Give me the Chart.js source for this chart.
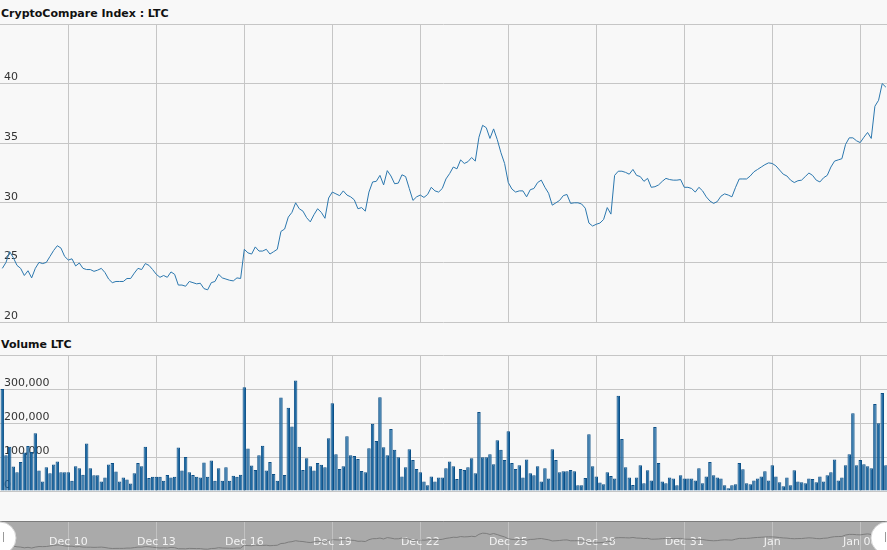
<!DOCTYPE html>
<html>
<head>
<meta charset="utf-8">
<script src="https://cdn.jsdelivr.net/npm/chart.js@4.4.1/dist/chart.umd.min.js"></script>
<style>
  html, body { margin: 0; padding: 0; background: #f8f8f8; overflow: hidden; }
  #wrap { position: relative; width: 887px; height: 550px; }
  canvas { position: absolute; left: 0; }
  .title { position: absolute; left: 1px; font: bold 11px "DejaVu Sans", Verdana, sans-serif; line-height: 13px; color: #111; }
</style>
</head>
<body>
<div id="wrap">
  <div class="title" style="top:7px">CryptoCompare Index : LTC</div>
  <canvas id="price" width="887" height="306" style="top:20px"></canvas>
  <div class="title" style="top:338px">Volume LTC</div>
  <canvas id="volume" width="887" height="144" style="top:351px"></canvas>
  <canvas id="navigator" width="887" height="33" style="top:517px"></canvas>
</div>
<script>
Chart.defaults.font.family = "'DejaVu Sans', Verdana, sans-serif";
Chart.defaults.font.size = 11;
Chart.defaults.color = "#333";
Chart.defaults.animation = false;

// samples every 3 hours, x counted in hours from Dec 10 00:00
const firstHour = -54;
const stepHours = 3;
const xMin = -55.9;
const xMax = 669.9;

const tickHours = [0, 72, 144, 216, 288, 360, 432, 504, 576, 648];
const tickLabels = ["Dec 10", "Dec 13", "Dec 16", "Dec 19", "Dec 22", "Dec 25", "Dec 28", "Dec 31", "Jan", "Jan 06"];

const prices = [
  24.5, 25.0, 25.9, 25.4, 24.75, 24.5, 23.9, 24.3, 23.7, 24.5,
  25.0, 24.9, 25.0, 25.5, 26.0, 26.4, 26.2, 25.5, 25.2, 25.3,
  24.7, 24.95, 24.5, 24.4, 24.4, 24.25, 24.35, 24.5, 24.15, 23.6,
  23.3, 23.4, 23.4, 23.4, 23.65, 23.65, 24.1, 24.5, 24.4, 24.9,
  24.75, 24.4, 24.0, 23.75, 23.9, 23.75, 24.2, 24.0, 23.1, 23.1,
  23.0, 23.4, 23.3, 23.2, 23.25, 22.8, 22.7, 23.3, 23.4, 24.0,
  23.7, 23.6, 23.5, 23.45, 23.7, 23.65, 26.1, 25.8, 25.7, 26.3,
  25.95, 25.95, 26.1, 25.7, 25.9, 26.1, 27.6, 27.8, 28.8, 29.2,
  30.0, 29.5, 29.3, 28.75, 28.4, 29.0, 29.5, 29.2, 28.7, 30.4,
  30.9, 30.75, 30.6, 31.0, 30.65, 30.5, 30.25, 29.5, 29.6, 29.3,
  30.9, 31.75, 31.8, 32.3, 31.5, 32.7, 32.25, 31.6, 31.65, 32.35,
  32.2, 31.2, 30.2, 30.5, 30.65, 30.45, 30.7, 31.3, 31.0, 30.9,
  31.2, 32.0, 32.45, 33.0, 32.85, 33.6, 33.3, 33.45, 33.8, 33.5,
  35.5, 36.5, 36.3, 35.4, 36.2, 35.3, 34.2, 33.3, 31.7, 31.15,
  30.9, 31.0, 31.0, 30.5, 31.1, 31.2, 31.7, 31.9, 31.3, 30.8,
  29.8, 30.0, 30.2, 30.6, 30.7, 29.95, 30.0, 30.0, 29.9, 29.55,
  28.3, 28.05, 28.2, 28.3, 28.6, 29.6, 29.05, 32.3, 32.65, 32.65,
  32.55, 32.4, 32.8, 32.3, 32.2, 31.8, 32.05, 31.3, 31.35, 31.5,
  31.8, 32.05, 31.95, 31.9, 31.9, 31.95, 31.3, 31.3, 31.2, 30.9,
  31.3, 31.0, 30.5, 30.15, 29.95, 30.1, 30.55, 30.75, 30.65, 30.5,
  31.3, 32.0, 32.0, 32.0, 32.25, 32.6, 32.8, 33.0, 33.2, 33.35,
  33.3, 33.1, 32.75, 32.4, 32.25, 31.9, 31.7, 31.85, 31.9, 32.2,
  32.5, 32.3, 31.9, 31.75, 32.1, 32.3, 33.0, 33.5, 33.6, 33.7,
  34.9, 35.45, 35.45, 35.2, 35.05, 35.5, 35.9, 35.4, 38.1, 38.6,
  40.0, 39.7
];

const volumes = [
  300000, 105000, 130000, 72000, 55000, 85000, 113000, 132000, 115000, 170000,
  60000, 28000, 70000, 52000, 78000, 87000, 55000, 55000, 55000, 30000,
  73000, 67000, 48000, 140000, 67000, 46000, 46000, 28000, 40000, 78000,
  82000, 57000, 28000, 40000, 34000, 22000, 52000, 82000, 73000, 130000,
  38000, 42000, 42000, 42000, 30000, 47000, 40000, 42000, 128000, 60000,
  100000, 55000, 47000, 42000, 40000, 84000, 42000, 90000, 30000, 67000,
  30000, 70000, 30000, 45000, 42000, 48000, 305000, 125000, 75000, 62000,
  105000, 133000, 60000, 85000, 50000, 30000, 275000, 47000, 245000, 190000,
  325000, 130000, 62000, 96000, 73000, 60000, 82000, 77000, 70000, 155000,
  258000, 108000, 65000, 73000, 161000, 105000, 103000, 94000, 59000, 55000,
  126000, 198000, 147000, 276000, 129000, 105000, 182000, 121000, 99000, 43000,
  70000, 123000, 91000, 65000, 55000, 28000, 17000, 43000, 28000, 40000,
  40000, 67000, 87000, 73000, 35000, 65000, 62000, 70000, 96000, 52000,
  232000, 99000, 99000, 108000, 79000, 149000, 121000, 91000, 176000, 82000,
  65000, 76000, 40000, 93000, 52000, 46000, 73000, 28000, 67000, 37000,
  123000, 91000, 55000, 58000, 58000, 62000, 58000, 17000, 17000, 38000,
  167000, 73000, 43000, 25000, 20000, 55000, 44000, 37000, 280000, 153000,
  70000, 40000, 18000, 40000, 76000, 23000, 61000, 31000, 188000, 82000,
  28000, 23000, 40000, 37000, 17000, 46000, 37000, 37000, 37000, 31000,
  67000, 23000, 43000, 85000, 46000, 40000, 37000, 17000, 8000, 17000,
  20000, 82000, 64000, 23000, 20000, 31000, 37000, 43000, 58000, 31000,
  76000, 43000, 26000, 14000, 40000, 17000, 61000, 28000, 26000, 23000,
  37000, 35000, 26000, 43000, 28000, 46000, 55000, 93000, 31000, 40000,
  76000, 108000, 229000, 76000, 91000, 79000, 73000, 67000, 256000, 199000,
  288000, 76000
];

const hours = prices.map((_, i) => firstHour + i * stepHours);
const pricePoints = hours.map((h, i) => ({ x: h, y: prices[i] }));
const volumePoints = hours.map((h, i) => ({ x: h, y: volumes[i] }));

const gridColor = "#c6c6c6";

// let the plot area fill the whole canvas (labels are drawn inside it)
function flat(scale) {
  if (scale.isHorizontal()) scale.height = 0;
  else scale.width = 0;
  scale.paddingLeft = scale.paddingRight = scale.paddingTop = scale.paddingBottom = 0;
}

function timeAxis(extra) {
  return Object.assign({
    type: "linear",
    min: xMin,
    max: xMax,
    offset: false,
    afterBuildTicks: (axis) => { axis.ticks = tickHours.map((v) => ({ value: v })); },
    afterFit: flat,
    grid: { color: gridColor, drawTicks: false, offset: false },
    border: { display: false },
    ticks: { display: false },
  }, extra);
}

function valueAxis(min, max, step, fmt) {
  return {
    min: min,
    max: max,
    afterFit: flat,
    grid: { color: gridColor, drawTicks: false },
    border: { display: false },
    ticks: {
      stepSize: step,
      mirror: true,
      padding: 4,
      labelOffset: -6,
      callback: (v) => (v === max ? "" : fmt(v)),
    },
  };
}

const noPlugins = { legend: { display: false }, tooltip: { enabled: false } };

new Chart(document.getElementById("price"), {
  type: "line",
  data: {
    datasets: [{
      data: pricePoints,
      borderColor: "#2b77ae",
      borderWidth: 1,
      pointRadius: 0,
      tension: 0,
    }],
  },
  options: {
    responsive: false,
    layout: { padding: { top: 4, bottom: 4 } },
    plugins: noPlugins,
    scales: {
      x: timeAxis(),
      y: valueAxis(20, 45, 5, (v) => String(v)),
    },
  },
});

new Chart(document.getElementById("volume"), {
  type: "bar",
  data: {
    datasets: [{
      data: volumePoints,
      backgroundColor: "#1f6aa3",
      borderColor: "#0c4f86",
      borderWidth: 1,
      barPercentage: 0.95,
      categoryPercentage: 1,
    }],
  },
  options: {
    responsive: false,
    layout: { padding: { top: 4, bottom: 4 } },
    plugins: noPlugins,
    scales: {
      x: timeAxis(),
      y: valueAxis(0, 400000, 100000, (v) => v.toLocaleString("en-US")),
    },
  },
});

// grey band, top rule and the two drag handles of the navigator
const navigatorBand = {
  id: "navigatorBand",
  beforeDraw(chart) {
    const { ctx, chartArea: a } = chart;
    ctx.save();
    ctx.fillStyle = "#aaaaaa";
    ctx.fillRect(a.left, a.top, a.right - a.left, chart.height - a.top);
    ctx.restore();
  },
  afterDraw(chart) {
    const { ctx, chartArea: a } = chart;
    ctx.save();
    ctx.strokeStyle = "#7c7c7c";
    ctx.lineWidth = 1;
    ctx.beginPath();
    ctx.moveTo(a.left, a.top + 0.5);
    ctx.lineTo(a.right, a.top + 0.5);
    ctx.stroke();
    [a.left, a.right].forEach((x, i) => {
      ctx.fillStyle = "#fff";
      ctx.strokeStyle = "#d4d4d4";
      ctx.beginPath();
      ctx.arc(x, a.top + 17, 16, 0, Math.PI * 2);
      ctx.fill();
      ctx.stroke();
      ctx.strokeStyle = "#9a9a9a";
      const gx = i ? x - 1.5 : x + 3.5;
      ctx.beginPath();
      ctx.moveTo(gx, a.top + 11);
      ctx.lineTo(gx, a.top + 21);
      ctx.stroke();
    });
    ctx.restore();
  },
};

new Chart(document.getElementById("navigator"), {
  type: "line",
  data: {
    datasets: [{
      data: pricePoints,
      borderColor: "#7d7d7d",
      borderWidth: 1,
      pointRadius: 0,
      tension: 0,
    }],
  },
  options: {
    responsive: false,
    layout: { padding: { top: 4 } },
    plugins: noPlugins,
    scales: {
      x: timeAxis({
        grid: { color: "#c2c2c2", drawTicks: false },
        ticks: {
          color: "#f2f2f2",
          mirror: true,
          padding: 1,
          autoSkip: false,
          maxRotation: 0,
          callback: (v, i) => tickLabels[i],
        },
      }),
      y: { display: false, min: 22, max: 47 },
    },
  },
  plugins: [navigatorBand],
});
</script>
</body>
</html>
